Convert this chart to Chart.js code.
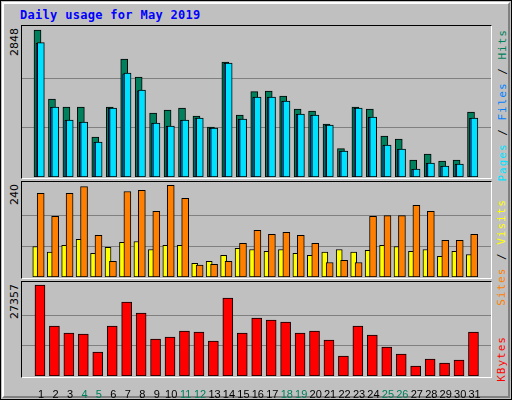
<!DOCTYPE html>
<html>
<head>
<meta charset="utf-8">
<script src="https://cdn.jsdelivr.net/npm/chart.js@4/dist/chart.umd.min.js"></script>
<style>
  body { margin: 0; background: #fff; }
  #wrap { position: relative; width: 510px; height: 398px; background: #c0c0c0; border: 1px solid #000; font-family: "DejaVu Sans Mono", monospace; }
  #inner { position: absolute; left: 1px; top: 1px; width: 504px; height: 392px; border: 2px solid; border-color: #fff #808080 #808080 #fff; }
  .panel { position: absolute; left: 20px; width: 469px; border: 1px solid; border-color: #000 #fff #fff #000; }
  canvas { position: absolute; }
  .title { position: absolute; left: 19px; top: 7px; color: #0000ff; font-weight: bold; font-size: 12px; letter-spacing: 0.3px; }
  .ymax { position: absolute; font-size: 11px; font-family: "DejaVu Sans", sans-serif; transform: rotate(-90deg); transform-origin: left top; left: 7px; }
  .leg { position: absolute; font-size: 11px; transform: rotate(-90deg); transform-origin: right top; white-space: nowrap; right: 16px; letter-spacing: 1px; }
</style>
</head>
<body>
<div id="wrap">
  <div id="inner"></div>
  <div class="title">Daily usage for May 2019</div>
  <div class="panel" style="top:24px;height:152px"></div>
  <div class="panel" style="top:180px;height:96px"></div>
  <div class="panel" style="top:280px;height:95px"></div>
  <div class="ymax" style="top:55px">2848</div>
  <div class="ymax" style="top:204px">240</div>
  <div class="ymax" style="top:318px">27357</div>
  <div class="leg" style="top:28px"><span style="color:#00e0ff">Pages</span> / <span style="color:#0080ff">Files</span> / <span style="color:#00805c">Hits</span></div>
  <div class="leg" style="top:198px"><span style="color:#ff8000">Sites</span> / <span style="color:#ffff00">Visits</span></div>
  <div class="leg" style="top:335px"><span style="color:#ff0000">KBytes</span></div>
  <canvas id="c1" style="left:21px;top:25px;width:469px;height:151px"></canvas>
  <canvas id="c2" style="left:21px;top:181px;width:469px;height:95px"></canvas>
  <canvas id="c3" style="left:21px;top:281px;width:469px;height:117px"></canvas>
</div>
<script>
// data
var days = [];
for (var d = 1; d <= 31; d++) days.push(d);
var weekend = [4, 5, 11, 12, 18, 19, 25, 26];

var hits = [2848,1511,1356,1356,775,1356,2286,1937,1240,1298,1337,1182,969,2228,1201,1653,1666,1569,1317,1279,1027,549,1356,1317,794,736,329,446,310,329,1259];
var files = [2603,1356,1104,1066,678,1337,2015,1686,1046,988,1104,1143,949,2209,1124,1550,1550,1472,1221,1201,1007,504,1337,1162,620,543,155,271,213,252,1143];
var pages = [2590,1350,1100,1060,670,1330,2000,1670,1040,980,1100,1140,945,2200,1120,1545,1545,1465,1215,1195,1000,500,1330,1155,612,536,150,266,208,246,1138];
var sites = [219,159,219,237,109,41,224,227,172,240,206,31,33,41,88,122,112,117,109,88,38,44,38,159,161,161,188,172,96,96,112];
var visits = [80,65,83,99,62,78,91,93,72,83,83,36,41,57,75,72,67,72,62,57,65,72,65,70,83,80,67,72,54,67,59];
var kbytes = [27357,15031,12927,12626,7215,15031,22246,18940,11123,11724,13528,13228,10522,23449,12927,17436,16835,16234,12927,13528,10823,6013,15031,12326,8718,6614,3006,5111,3908,4810,13228];

var X_MIN = 0.2, X_MAX = 31.61;

function pts(vals, off) {
  return vals.map(function(v, i) { return { x: days[i] + off, y: v }; });
}

function bars(vals, off, color, w, order) {
  return {
    data: pts(vals, off),
    backgroundColor: color,
    borderColor: "#000",
    borderWidth: 1,
    borderSkipped: false,
    barThickness: w,
    order: order,
    grouped: false
  };
}

function scales(max, showX) {
  return {
    x: {
      type: 'linear', min: X_MIN, max: X_MAX, display: showX,
      grid: { display: false }, border: { display: false },
      afterBuildTicks: function(s) { s.ticks = days.map(function(v) { return { value: v }; }); },
      afterFit: function(s) { if (showX) s.height = 23; else s.height = 0; },
      ticks: {
        autoSkip: false, maxRotation: 0, padding: 4,
        font: { family: "Liberation Sans", size: 11 },
        color: function(ctx) { return weekend.indexOf(ctx.tick.value) >= 0 ? "#00805c" : "#000"; },
        callback: function(v) { return v; }
      }
    },
    y: {
      min: 0, max: max, display: true,
      afterBuildTicks: function(s) { s.ticks = [{ value: s.options.step }, { value: s.options.step * 2 }]; },
      afterFit: function(s) { s.width = 0; },
      ticks: { display: false },
      grid: { color: "#808080", drawTicks: false },
      border: { display: false }
    }
  };
}

var common = {
  animation: false, responsive: false, maintainAspectRatio: false,
  layout: { padding: 0 },
  plugins: { legend: { display: false }, tooltip: { enabled: false } }
};

function make(id, w, h, datasets, max, step, showX) {
  var c = document.getElementById(id);
  c.width = w; c.height = h;
  var sc = scales(max, showX);
  sc.y.step = step;
  new Chart(c, {
    type: 'bar',
    data: { datasets: datasets },
    options: Object.assign({}, common, { scales: sc })
  });
}

make('c1', 469, 151, [
  bars(hits, -0.25, "#00805c", 7, 3),
  bars(pages, -0.15, "#0080ff", 6, 2),
  bars(files, -0.02, "#00e0ff", 7, 1)
], 2925, 2848 / 3, false);

make('c2', 469, 95, [
  bars(visits, -0.37, "#ffff00", 6, 2),
  bars(sites, -0.03, "#ff8000", 7, 1)
], 249, 80, false);

make('c3', 469, 117, [
  bars(kbytes, -0.08, "#ff0000", 10, 1)
], 28259, 27357 / 3, true);
</script>
</body>
</html>
